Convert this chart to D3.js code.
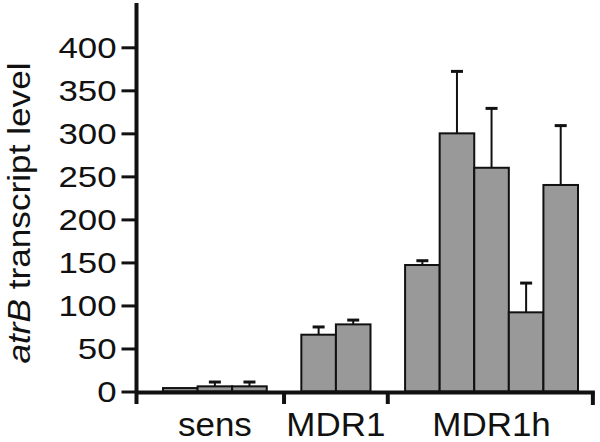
<!DOCTYPE html>
<html>
<head>
<meta charset="utf-8">
<script src="https://cdn.jsdelivr.net/npm/d3@7"></script>
<style>
  body { margin: 0; background: #fff; }
  svg { display: block; font-family: "Liberation Sans", Arial, sans-serif; }
</style>
</head>
<body>
<svg id="chart" width="600" height="442"></svg>
<script>
// values
var groups = ["sens", "MDR1", "MDR1h"];
var sensValues = [4, 6, 6];
var sensErrors = [0, 5, 5];
var mdr1Values = [66, 78];
var mdr1Errors = [9, 5];
var mdr1hValues = [147, 300, 260, 92, 240];
var mdr1hErrors = [5, 72, 69, 34, 69];
var yTicks = [0, 50, 100, 150, 200, 250, 300, 350, 400];

var groupValues = [sensValues, mdr1Values, mdr1hValues];
var groupErrors = [sensErrors, mdr1Errors, mdr1hErrors];

// lay bars into slots, one empty slot between groups
var bars = [], groupSpans = [], slot = 0;
groupValues.forEach(function(vals, g) {
	var start = slot;
	vals.forEach(function(v, i) {
		bars.push({ group: groups[g], slot: slot, value: v, err: groupErrors[g][i] });
		slot++;
	});
	groupSpans.push({ name: groups[g], start: start, end: slot });
	slot++;
});
var nSlots = slot - 1;

var svg = d3.select("#chart");

var x = d3.scaleLinear().domain([0, nSlots]).range([163, 578]);
var y = d3.scaleLinear().domain([0, 400]).range([391.5, 47.3]);

var axisX = 136.5, axisY = 392.5;

// bars
svg.append("g").selectAll("rect")
	.data(bars)
	.enter().append("rect")
	.attr("x", function(d) { return x(d.slot); })
	.attr("y", function(d) { return y(d.value); })
	.attr("width", function(d) { return x(d.slot + 1) - x(d.slot); })
	.attr("height", function(d) { return y(0) - y(d.value); })
	.attr("fill", "#999999")
	.attr("stroke", "#111")
	.attr("stroke-width", 2);

// error bars (upper only)
var eb = svg.append("g").selectAll("g")
	.data(bars.filter(function(d) { return d.err > 0; }))
	.enter().append("g")
	.attr("transform", function(d) { return "translate(" + (x(d.slot) + x(d.slot + 1)) / 2 + ",0)"; });
eb.append("line")
	.attr("x1", 0).attr("x2", 0)
	.attr("y1", function(d) { return y(d.value); })
	.attr("y2", function(d) { return y(d.value + d.err); })
	.attr("stroke", "#111").attr("stroke-width", 2);
eb.append("line")
	.attr("x1", -6).attr("x2", 6)
	.attr("y1", function(d) { return y(d.value + d.err); })
	.attr("y2", function(d) { return y(d.value + d.err); })
	.attr("stroke", "#111").attr("stroke-width", 3);

// y axis
var yAxis = svg.append("g")
	.attr("transform", "translate(" + axisX + ",0)")
	.call(d3.axisLeft(y).tickValues(yTicks).tickSize(15).tickSizeOuter(0));
yAxis.select(".domain").remove();
yAxis.selectAll(".tick line").attr("stroke", "#111").attr("stroke-width", 3);
yAxis.selectAll(".tick text")
	.attr("x", null)
	.attr("dy", "0.36em")
	.attr("transform", "translate(-20,0) scale(1.2,1)")
	.attr("fill", "#111")
	.style("font-size", "29px")
	.style("font-family", "'Liberation Sans', Arial, sans-serif");

svg.append("line")
	.attr("x1", axisX).attr("x2", axisX)
	.attr("y1", 3).attr("y2", 404)
	.attr("stroke", "#111").attr("stroke-width", 4);

// x axis
var xRight = x(nSlots + 0.43);
svg.append("line")
	.attr("x1", axisX).attr("x2", xRight + 2)
	.attr("y1", axisY).attr("y2", axisY)
	.attr("stroke", "#111").attr("stroke-width", 4);

var dividers = groupSpans.slice(0, -1).map(function(s) { return s.end + 0.5; });
svg.append("g").selectAll("line")
	.data(dividers)
	.enter().append("line")
	.attr("x1", function(d) { return x(d); })
	.attr("x2", function(d) { return x(d); })
	.attr("y1", axisY).attr("y2", 404)
	.attr("stroke", "#111").attr("stroke-width", 4);
svg.append("line")
	.attr("x1", xRight).attr("x2", xRight)
	.attr("y1", axisY).attr("y2", 405)
	.attr("stroke", "#111").attr("stroke-width", 4);

// group labels
svg.append("g").selectAll("text")
	.data(groupSpans)
	.enter().append("text")
	.attr("transform", function(d) { return "translate(" + x((d.start + d.end) / 2) + ",436) scale(1.06,1)"; })
	.attr("text-anchor", "middle")
	.attr("fill", "#111")
	.style("font-size", "33px")
	.text(function(d) { return d.name; });

// y label
var yl = svg.append("text")
	.attr("transform", "translate(30,213) rotate(-90) scale(1.1,1)")
	.attr("text-anchor", "middle")
	.attr("fill", "#111")
	.style("font-size", "32px");
yl.append("tspan").style("font-style", "italic").text("atrB");
yl.append("tspan").text(" transcript level");
</script>
</body>
</html>
